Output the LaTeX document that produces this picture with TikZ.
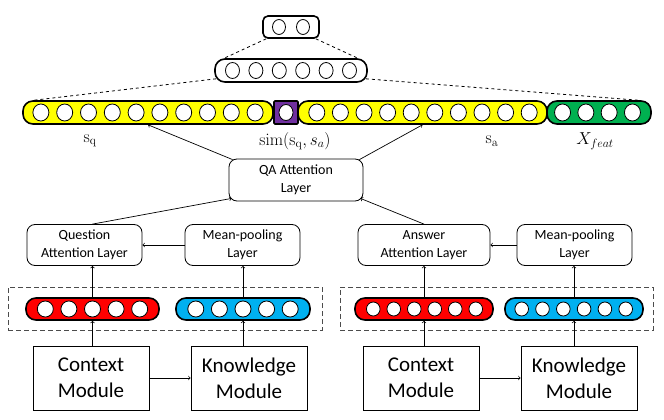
\documentclass[tikz,border=0pt]{standalone}
\usepackage[no-math]{fontspec}
\setmainfont{Carlito}
\usepackage{amsmath}

\definecolor{qyellow}{HTML}{FFFF00}
\definecolor{simpurple}{HTML}{7030A0}
\definecolor{featgreen}{HTML}{00B050}
\definecolor{ctxred}{HTML}{FF0000}
\definecolor{knwblue}{HTML}{00B0F0}

\begin{document}
\begin{tikzpicture}[x=1pt,y=-1pt,
        layer/.style={draw, line width=0.8pt, rounded corners=8pt, align=center, minimum height=41pt, inner sep=1pt, font=\fontsize{14}{18}\selectfont},
        module/.style={draw, line width=0.8pt, align=center, minimum width=116pt, minimum height=64pt, inner sep=1pt, font=\fontsize{21}{26}\selectfont},
        vec/.style={draw, line width=1.6pt, rounded corners=10pt, minimum height=23pt, inner sep=0pt},
        unit/.style={draw, fill=white, line width=0.8pt},
        group/.style={draw=black!70, line width=0.8pt, dash pattern=on 5pt off 3pt, minimum height=43pt, inner sep=0pt},
        lbl/.style={font=\fontsize{18}{21}\selectfont},
        link/.style={->, line width=0.7pt}]
    \useasboundingbox (0,0) rectangle (664,420);

    % Output part: small vector, hidden vector and the joined vector
    \node[vec, rounded corners=5pt, minimum width=56pt, minimum height=22pt] (top) at (291,27) {};
    \foreach \i in {1,2} \draw[unit] ({291+(\i-1.5)*24},27) ellipse[x radius=6.5pt, y radius=7.5pt];
    \node[vec, minimum width=152pt] (hid) at (291,70.5) {};
    \foreach \i in {1,...,6} \draw[unit] ({291+(\i-3.5)*23.4},70.5) ellipse[x radius=7pt, y radius=8pt];

    \node[vec, fill=qyellow, minimum width=250pt] (sq) at (148,112.5) {}; % question vector
    \foreach \i in {1,...,10} \draw[unit] ({148+(\i-5.5)*23.8},112.5) ellipse[x radius=8pt, y radius=8.5pt];
    \node[vec, fill=simpurple, rounded corners=1pt, minimum width=24pt] (sim) at (286,112.5) {}; % similarity
    \draw[unit] (286,112.5) ellipse[x radius=7pt, y radius=8pt];
    \node[vec, fill=qyellow, minimum width=249pt] (sa) at (422.5,112.5) {}; % answer vector
    \foreach \i in {1,...,10} \draw[unit] ({423+(\i-5.5)*23.6},112.5) ellipse[x radius=8pt, y radius=8.5pt];
    \node[vec, fill=featgreen, minimum width=104pt] (feat) at (599,112.5) {}; % extra features
    \foreach \i in {1,...,4} \draw[unit] ({597.5+(\i-2.5)*23.3},112.5) ellipse[x radius=8pt, y radius=8.5pt];

    % Dashed fan-in lines
    \draw[dashed, line width=0.8pt] ([xshift=4pt]top.south west) -- ([xshift=10pt]hid.north west);
    \draw[dashed, line width=0.8pt] ([xshift=-4pt]top.south east) -- ([xshift=-10pt]hid.north east);
    \draw[dashed, line width=0.8pt] ([shift={(2pt,4pt)}]hid.south west) -- ([xshift=12pt]sq.north west);
    \draw[dashed, line width=0.8pt] ([shift={(-2pt,4pt)}]hid.south east) -- ([xshift=-14pt]feat.north east);

    % Labels under the joined vector
    \node[lbl] (sqlbl) at (90,141) {$\mathrm{s}_{\mathrm{q}}$};
    \node[lbl] (simlbl) at (295,141) {$\mathrm{sim}(\mathrm{s}_{\mathrm{q}},s_a)$};
    \node[lbl] (salbl) at (492,141) {$\mathrm{s}_{\mathrm{a}}$};
    \node[lbl] (featlbl) at (595,141) {$X_{feat}$};

    % Attention layers
    \node[layer, minimum width=134pt, minimum height=42pt] (qa) at (296,180) {QA Attention\\Layer};
    \node[layer, minimum width=115pt] (qatt) at (84.5,245) {Question\\Attention Layer};
    \node[layer, minimum width=115pt] (poolq) at (242.5,245) {Mean-pooling\\Layer};
    \node[layer, minimum width=132pt] (aatt) at (424,245) {Answer\\Attention Layer};
    \node[layer, minimum width=115pt] (poola) at (574.5,245) {Mean-pooling\\Layer};

    % Dashed groups with the encoded vectors
    \node[group, minimum width=314pt] (grpq) at (165,308.5) {};
    \node[group, minimum width=313pt] (grpa) at (496.5,308.5) {};
    \node[vec, fill=ctxred, minimum width=133pt, minimum height=22pt] (ctxq) at (92.5,309) {};
    \foreach \i in {1,...,5} \draw[unit] ({92.5+(\i-3)*23.6},309) ellipse[x radius=8pt, y radius=8pt];
    \node[vec, fill=knwblue, minimum width=134pt, minimum height=22pt] (knwq) at (243,309) {};
    \foreach \i in {1,...,5} \draw[unit] ({243+(\i-3)*23.6},309) ellipse[x radius=8pt, y radius=8pt];
    \node[vec, fill=ctxred, minimum width=138pt, minimum height=22pt] (ctxa) at (424,309) {};
    \foreach \i in {1,...,6} \draw[unit] ({424.5+(\i-3.5)*20.5},309) ellipse[x radius=6.8pt, y radius=7pt];
    \node[vec, fill=knwblue, minimum width=138pt, minimum height=22pt] (knwa) at (574,309) {};
    \foreach \i in {1,...,6} \draw[unit] ({573.7+(\i-3.5)*20.8},309) ellipse[x radius=6.8pt, y radius=7pt];

    % Modules
    \node[module] (cmq) at (91,378) {Context\\Module};
    \node[module] (kmq) at (249,378) {Knowledge\\Module};
    \node[module] (cma) at (421,378) {Context\\Module};
    \node[module] (kma) at (579,378) {Knowledge\\Module};

    % Arrows, question side
    \draw[link] (cmq) -- (kmq);
    \draw[link] (ctxq.south |- cmq.north) -- (ctxq.south);
    \draw[link] (knwq.south |- kmq.north) -- (knwq.south);
    \draw[link] (ctxq.north) -- (ctxq.north |- qatt.south);
    \draw[link] (knwq.north) -- (knwq.north |- poolq.south);
    \draw[link] (poolq) -- (qatt);
    \draw[link] (ctxq.north |- qatt.north) -- ([shift={(3pt,3pt)}]qa.south west);

    % Arrows, answer side
    \draw[link] (cma) -- (kma);
    \draw[link] (ctxa.south |- cma.north) -- (ctxa.south);
    \draw[link] (knwa.south |- kma.north) -- (knwa.south);
    \draw[link] (ctxa.north) -- (ctxa.north |- aatt.south);
    \draw[link] (knwa.north) -- (knwa.north |- poola.south);
    \draw[link] (poola) -- (aatt);
    \draw[link] (aatt.north) -- ([shift={(-3pt,3pt)}]qa.south east);

    % Arrows to the joined vector
    \draw[link] ([shift={(4pt,-1pt)}]qa.north west) -- (sq.south);
    \draw[link] ([shift={(-4pt,-1pt)}]qa.north east) -- (sa.south);
\end{tikzpicture}
\end{document}
